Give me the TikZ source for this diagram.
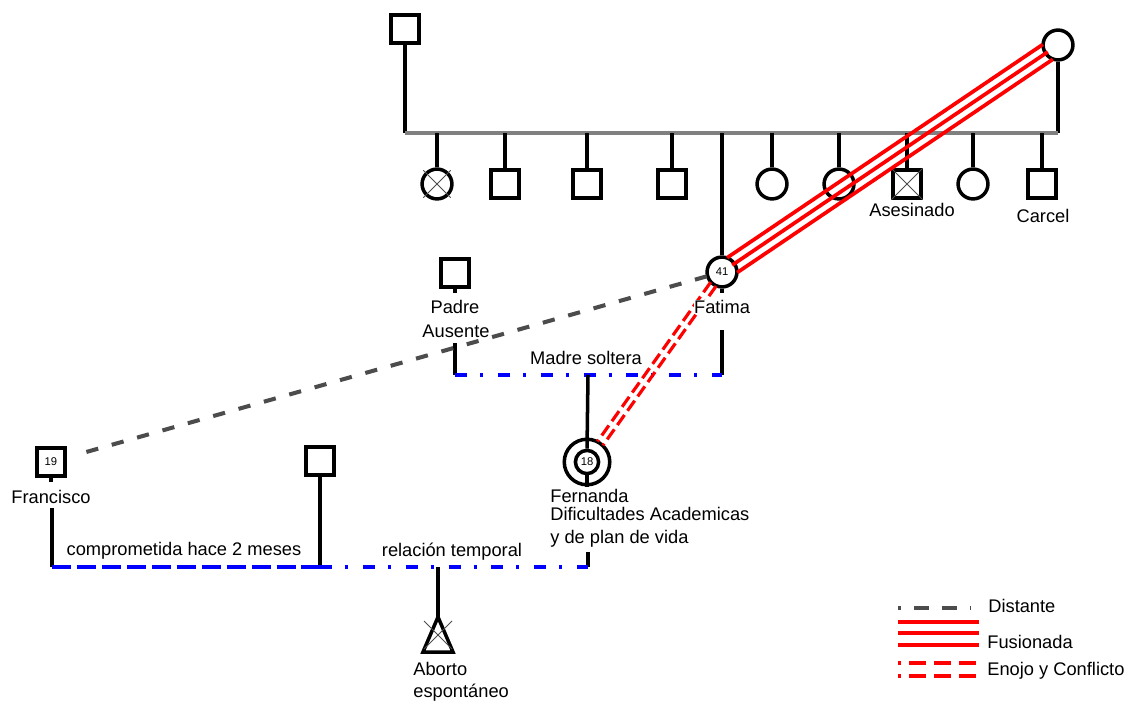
\documentclass[tikz,border=0pt]{standalone}
\usepackage{fontspec}
\setmainfont{Liberation Sans}
\usetikzlibrary{calc}
\newcommand\numero{\fontsize{6.4}{6.4}\selectfont}

\begin{document}
\begin{tikzpicture}[x=0.02cm, y=-0.02cm,
  hombre/.style={draw, line width=2pt, fill=white, minimum size=15.8pt, inner sep=0pt},
  mujer/.style={draw, circle, line width=2pt, fill=white, minimum size=17pt, inner sep=0pt},
  linea/.style={draw=black, line width=2pt},
  hermandad/.style={draw=gray, line width=2pt},
  cruz/.style={draw=black!70, line width=0.5pt},
  etiqueta/.style={inner sep=0pt, font=\fontsize{10.4}{12.5}\selectfont},
  distante/.style={draw=black!70, line width=2.3pt, dash pattern=on 7pt off 8pt},
  fusionada/.style={draw=red, line width=2.1pt},
  conflicto/.style={draw=red, line width=1.8pt, dash pattern=on 7pt off 3pt},
  soltera/.style={draw=blue, line width=2pt, dash pattern=on 6.8pt off 7.4pt on 1.7pt off 8.5pt},
  compromiso/.style={draw=blue, line width=2.3pt, dash pattern=on 10.8pt off 3.4pt}]
  \useasboundingbox (0,0) rectangle (1124,702);

  % abuelos y hermanos
  \node[hombre] (abuelo) at (405,29) {};
  \node[mujer] (abuela) at (1058,45) {};
  \coordinate (sib_l) at (405,133);
  \coordinate (sib_r) at (1058,133);
  \draw[linea] (abuelo) -- (sib_l);
  \draw[linea] (abuela) -- (sib_r);
  \draw[hermandad] (sib_l) -- (sib_r);

  \foreach \x/\s/\n in {437/mujer/h1, 505/hombre/h2, 587/hombre/h3, 672/hombre/h4,
      772/mujer/h5, 839/mujer/h6, 907/hombre/h7, 973/mujer/h8, 1042/hombre/h9}{
    \node[\s] (\n) at (\x,184) {};
    \draw[linea] (\n.north) -- (\n.north |- sib_l);
  }
  \draw[cruz, shorten <=-1.5pt, shorten >=-1.5pt] (h1.north west) -- (h1.south east);
  \draw[cruz, shorten <=-1.5pt, shorten >=-1.5pt] (h1.north east) -- (h1.south west);
  \draw[cruz] (h7.north west) -- (h7.south east) (h7.north east) -- (h7.south west);
  \node[etiqueta, anchor=base] (h7_lbl) at (912,217) {Asesinado};
  \node[etiqueta, anchor=base] (h9_lbl) at (1043,223) {Carcel};

  % Fatima y padre
  \node[mujer] (fatima) at (722,272) {\numero 41};
  \draw[linea] (fatima.north) -- (fatima.north |- sib_l);
  \draw[linea] (fatima.south) -- ++(0,4);

  \node[hombre] (padre) at (455,273) {};
  \draw[linea] (padre.south) -- ++(0,4);
  \node[etiqueta, anchor=base] (padre_lbl) at (455,313) {Padre};
  \node[etiqueta, anchor=base] (padre_lbl2) at (456,337) {Ausente};

  \coordinate (ms_l) at (455,375);
  \coordinate (ms_c) at (588,375);
  \coordinate (ms_r) at (722,375);
  \draw[linea] (ms_l) -- +(0,-32);
  \draw[linea] (ms_r) -- +(0,-45);
  \draw[soltera] (ms_l) -- (ms_r);
  \node[etiqueta, anchor=base] (ms_lbl) at (586,364) {Madre soltera};

  % Fernanda
  \node[mujer, minimum size=25.9pt] (fernanda_ext) at (587,462) {};
  \node[mujer, minimum size=13.2pt] (fernanda) at (587,462) {\numero 18};
  \draw[linea] (ms_c) -- (fernanda.north);
  \draw[linea] (fernanda.south) -- (fernanda_ext.south);
  \node[etiqueta, anchor=base west] (fernanda_lbl) at (550,502) {Fernanda};
  \node[etiqueta, anchor=base west] (fernanda_lbl2) at (550,520) {Dificultades Academicas};
  \node[etiqueta, anchor=base west] (fernanda_lbl3) at (550,543) {y de plan de vida};

  % Francisco y pareja
  \node[hombre] (francisco) at (51,462) {\numero 19};
  \draw[linea] (francisco.south) -- ++(0,4);
  \node[etiqueta, anchor=base] (francisco_lbl) at (51,503) {Francisco};
  \node[hombre] (pareja) at (320,461) {};

  \coordinate (comp_l) at (52,567);
  \coordinate (comp_r) at (320,567);
  \coordinate (rel_r) at (588,567);
  \draw[linea] (comp_l) -- +(0,-59);
  \draw[linea] (pareja) -- (comp_r);
  \draw[linea] (rel_r) -- +(0,-15);
  \draw[compromiso] (comp_l) -- (comp_r);
  \draw[soltera] (comp_r) -- (rel_r);
  \node[etiqueta, anchor=base] (comp_lbl) at (184,555) {comprometida hace 2 meses};
  \node[etiqueta, anchor=base] (rel_lbl) at (452,556) {relación temporal};

  % aborto
  \coordinate (aborto_top) at (438,567);
  \coordinate (aborto) at (438,617);
  \draw[linea] (aborto_top) -- (aborto);
  \draw[linea, line join=miter] (aborto) -- ++(-15,35) -- ++(30,0) -- cycle;
  \draw[cruz] ($(aborto)+(-14,4)$) -- ($(aborto)+(14,32)$);
  \draw[cruz] ($(aborto)+(14,4)$) -- ($(aborto)+(-14,32)$);
  \node[etiqueta, anchor=base west] (aborto_lbl) at (413,675) {Aborto};
  \node[etiqueta, anchor=base west] (aborto_lbl2) at (413,697) {espontáneo};

  % relaciones
  \draw[distante, shorten <=9pt, shorten >=15pt] (fatima.center) -- (francisco.center);
  \foreach \o in {-1.9pt,1.9pt}
    \draw[conflicto, shorten <=8.5pt, shorten >=13pt]
      ($(fatima.center)!\o!90:(fernanda.center)$) -- ($(fernanda.center)!\o!-90:(fatima.center)$);
  \foreach \o in {-5.1pt,0pt,5.1pt}
    \draw[fusionada, shorten <=7pt, shorten >=7pt]
      ($(abuela.center)!\o!90:(fatima.center)$) -- ($(fatima.center)!\o!-90:(abuela.center)$);
  \node[etiqueta, anchor=base, fill=white] (fatima_lbl) at (722,313) {Fatima};

  % leyenda
  \coordinate (ld_a) at (898,608);
  \coordinate (ld_b) at (970,608);
  \draw[distante, dash pattern=on 8.5pt off 7.4pt, dash phase=6.8pt] (ld_a) -- (ld_b);
  \node[etiqueta, anchor=base west] (ld_lbl) at (988,612) {Distante};
  \foreach \y in {622,633,645}{
    \coordinate (lf_a\y) at (898,\y);
    \coordinate (lf_b\y) at (979,\y);
    \draw[fusionada, line width=2.4pt] (lf_a\y) -- (lf_b\y);
  }
  \node[etiqueta, anchor=base west] (lf_lbl) at (987,648) {Fusionada};
  \foreach \y in {663,676}{
    \coordinate (le_a\y) at (898,\y);
    \coordinate (le_b\y) at (977,\y);
    \draw[conflicto, line width=2.4pt, dash pattern=on 9.7pt off 4.5pt, dash phase=8pt] (le_a\y) -- (le_b\y);
  }
  \node[etiqueta, anchor=base west] (le_lbl) at (987,675) {Enojo y Conflicto};
\end{tikzpicture}
\end{document}
